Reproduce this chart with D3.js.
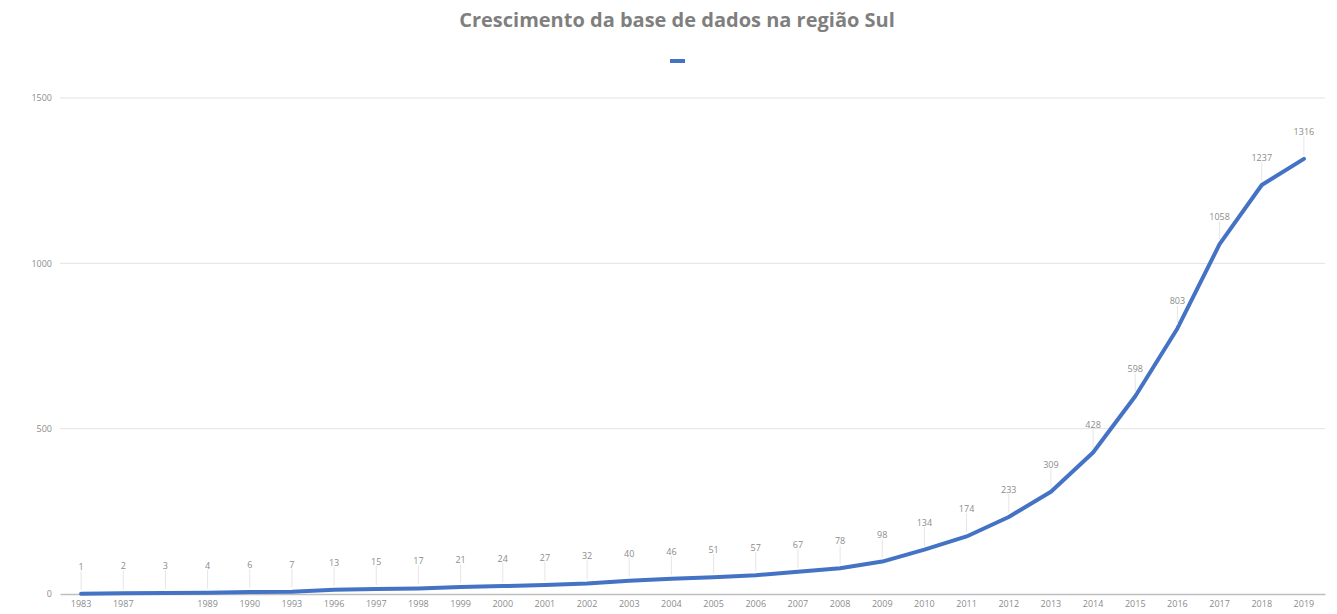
<!DOCTYPE html>
<html>
<head>
<meta charset="utf-8">
<script src="https://cdn.jsdelivr.net/npm/d3@7"></script>
<style>
  html, body { margin: 0; padding: 0; background: #ffffff; }
  text { font-family: "Open Sans", "Liberation Sans", sans-serif; }
</style>
</head>
<body>
<div id="chart"></div>
<script>
// categories (one label in the source is empty)
var anos = ["1983", "1987", "", "1989", "1990", "1993", "1996", "1997", "1998", "1999",
            "2000", "2001", "2002", "2003", "2004", "2005", "2006", "2007", "2008", "2009",
            "2010", "2011", "2012", "2013", "2014", "2015", "2016", "2017", "2018", "2019"];
var totais = [1, 2, 3, 4, 6, 7, 13, 15, 17, 21, 24, 27, 32, 40, 46, 51, 57, 67, 78, 98,
              134, 174, 233, 309, 428, 598, 803, 1058, 1237, 1316];
var yTicks = [0, 500, 1000, 1500];
var titulo = "Crescimento da base de dados na região Sul";

var width = 1337, height = 614;
var margin = {top: 98, right: 12, bottom: 20, left: 60};

var svg = d3.select("#chart").append("svg")
    .attr("width", width)
    .attr("height", height);

var x = d3.scaleBand()
    .domain(d3.range(anos.length))
    .range([margin.left, width - margin.right]);

var y = d3.scaleLinear()
    .domain([0, 1500])
    .range([height - margin.bottom, margin.top]);

// title
svg.append("text")
    .attr("x", 677)
    .attr("y", 27)
    .attr("text-anchor", "middle")
    .attr("fill", "#7f7f7f")
    .style("font-size", "20px")
    .style("font-weight", "bold")
    .text(titulo);

// legend marker (series has no name)
svg.append("line")
    .attr("x1", 670).attr("x2", 685)
    .attr("y1", 61).attr("y2", 61)
    .attr("stroke", "#4472c4")
    .attr("stroke-width", 4);

// gridlines
svg.append("g").selectAll("line")
    .data(yTicks.slice(1))
    .enter().append("line")
    .attr("x1", margin.left).attr("x2", width - margin.right)
    .attr("y1", function (d) { return y(d); })
    .attr("y2", function (d) { return y(d); })
    .attr("stroke", "#e3e3e3")
    .attr("stroke-width", 1);

// y axis labels
var yAxis = svg.append("g")
    .attr("transform", "translate(" + (margin.left - 8) + ",0)")
    .call(d3.axisLeft(y).tickValues(yTicks).tickSize(0).tickPadding(0).tickFormat(d3.format("d")));
yAxis.select(".domain").remove();
yAxis.selectAll("text")
    .attr("fill", "#8c8c8c")
    .style("font-size", "9px");

// x axis
var xAxis = svg.append("g")
    .attr("transform", "translate(0," + y(0) + ")")
    .call(d3.axisBottom(x).tickSize(0).tickPadding(7).tickFormat(function (i) { return anos[i]; }));
xAxis.select(".domain")
    .attr("stroke", "#bfbfbf")
    .attr("stroke-width", 1.5);
xAxis.selectAll("text")
    .attr("fill", "#8c8c8c")
    .style("font-size", "9px");

var cx = function (d, i) { return x(i) + x.bandwidth() / 2; };

// series line
var line = d3.line()
    .x(cx)
    .y(function (d) { return y(d); });

svg.append("path")
    .datum(totais)
    .attr("fill", "none")
    .attr("stroke", "#4472c4")
    .attr("stroke-width", 4)
    .attr("stroke-linejoin", "round")
    .attr("stroke-linecap", "round")
    .attr("d", line);

// data labels with leader lines
var labels = svg.append("g").selectAll("g")
    .data(totais)
    .enter().append("g");

labels.append("line")
    .attr("x1", cx).attr("x2", cx)
    .attr("y1", function (d) { return y(d) - 23; })
    .attr("y2", function (d) { return y(d) - 4; })
    .attr("stroke", "#e6e6e6")
    .attr("stroke-width", 1);

labels.append("text")
    .attr("x", cx)
    .attr("y", function (d) { return y(d) - 24; })
    .attr("text-anchor", "middle")
    .attr("fill", "#8c8c8c")
    .style("font-size", "9px")
    .text(function (d) { return d; });
</script>
</body>
</html>
